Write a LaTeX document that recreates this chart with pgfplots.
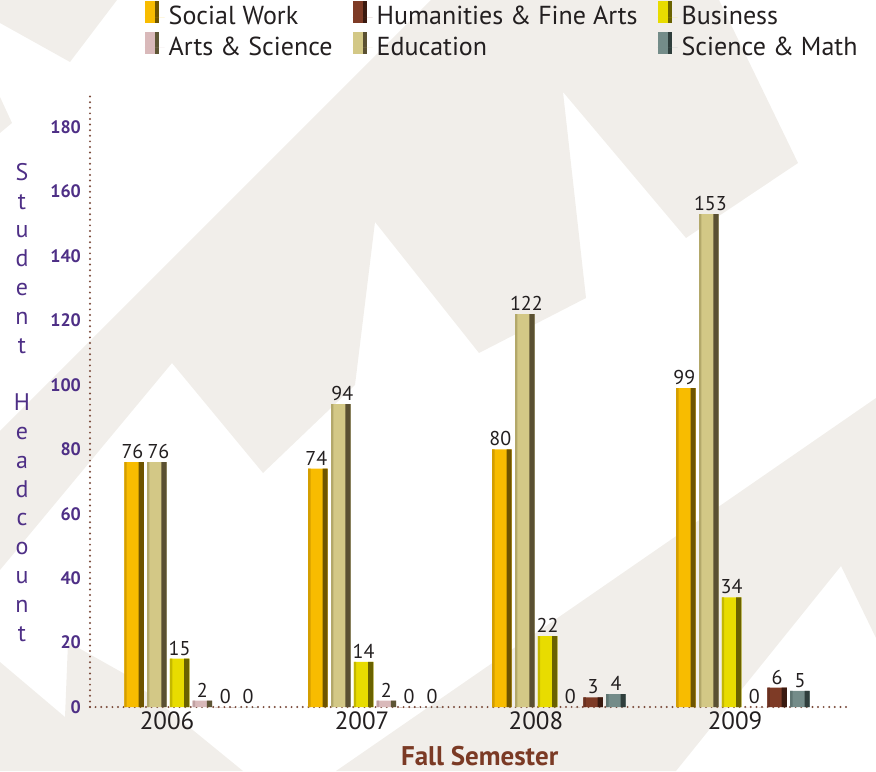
\documentclass[border=0pt]{standalone}
\usepackage{pgfplots}
\pgfplotsset{compat=1.18}
\usepackage{pgfplotstable}
\usepackage{fontspec}
\setmainfont{PT Sans}

\definecolor{bg}{HTML}{F1EEEA}
\definecolor{axbrown}{HTML}{7A4A3A}
\definecolor{ypurple}{HTML}{4E2F86}
\definecolor{xlab}{HTML}{7B3A25}
\definecolor{txt}{HTML}{231F20}
\definecolor{swM}{HTML}{F8BC00}\definecolor{swL}{HTML}{D49E00}\definecolor{swD}{HTML}{6E5400}
\definecolor{edM}{HTML}{D3C886}\definecolor{edL}{HTML}{B3A86A}\definecolor{edD}{HTML}{5A5032}
\definecolor{buM}{HTML}{E8DC00}\definecolor{buL}{HTML}{C4B800}\definecolor{buD}{HTML}{6A6200}
\definecolor{asM}{HTML}{D9B9BA}\definecolor{asL}{HTML}{BFA0A1}\definecolor{asD}{HTML}{5E5535}
\definecolor{huM}{HTML}{7E3B26}\definecolor{huL}{HTML}{6A3020}\definecolor{huD}{HTML}{3A1A10}
\definecolor{smM}{HTML}{748C89}\definecolor{smL}{HTML}{5F7572}\definecolor{smD}{HTML}{2F3E3C}

\pgfplotstableread{
x sw hum bus as edu sm
0 76 0 15 2 76 0
1 74 0 14 2 94 0
2 80 3 22 0 122 4
3 99 6 34 0 153 5
}\datatable

\newcommand{\legicon}[2]{\fill[#1] (0pt,-3pt) rectangle (7pt,8pt); \fill[#2] (5.1pt,-3pt) rectangle (7pt,8pt); \path (0pt,0pt) -- (10pt,0pt);}

\begin{document}
\begin{tikzpicture}
% background decoration (pixel coordinates of the reference)
\begin{scope}[shift={(-45pt,353.5pt)}, x=0.5pt, y=-0.5pt]
\fill[bg] (0,0) -- (117,0) -- (70,62) -- (0,23) -- cycle;
\fill[bg] (0,97) -- (12,123) -- (0,133) -- cycle;
\fill[bg] (431,0) -- (719,0) -- (798,163) -- (686,238) -- (563,92) -- (586,298) -- (479,353) -- (375,222) -- (355,385) -- (263,473) -- (172,363) -- (0,570) -- (0,431) -- cycle;
\fill[bg] (336,771) -- (876,398) -- (876,638) -- (841,566) -- (676,771) -- cycle;
\fill[bg] (0,662) -- (65,717) -- (68,642) -- (123,673) -- (243,771) -- (0,771) -- cycle;
\end{scope}

\begin{axis}[
  at={(0pt,0pt)}, anchor=south west,
  scale only axis, width=379pt, height=306pt,
  xmin=-0.549, xmax=3.571, ymin=0, ymax=190,
  axis x line=bottom, axis y line=left,
  axis line style={-, draw=axbrown, line width=1.1pt, line cap=round, dash pattern=on 0pt off 2.8pt},
  ytick={0,20,...,180},
  xtick={-0.13,0.93,1.875,2.957},
  xticklabels={2006,2007,2008,2009},
  major tick length=0pt,
  /pgf/number format/assume math mode=true,
  yticklabel style={font=\fontsize{9}{10}\selectfont\bfseries, text=ypurple, xshift=-1pt},
  xticklabel style={font=\fontsize{12.5}{14}\selectfont, text=txt, yshift=1pt},
  xlabel={Fall Semester},
  every axis x label/.style={at={(axis description cs:0.514,0)}, yshift=-24.5pt, anchor=center,
    font=\fontsize{13.5}{15}\selectfont\bfseries, text=xlab},
  ylabel={S\\t\\u\\d\\e\\n\\t\\[14.4pt]H\\e\\a\\d\\c\\o\\u\\n\\t},
  every axis y label/.style={at={(axis description cs:-0.0897,0.498)}, anchor=center, align=center,
    font=\fontsize{12}{14.4}\selectfont, text=ypurple},
  ybar,
  every node near coord/.append style={font=\fontsize{10}{12}\selectfont, text=txt, inner sep=1.5pt},
  legend columns=3,
  legend cell align=left,
  legend style={draw=none, fill=none, at={(axis description cs:0.545,1)}, anchor=south, yshift=14pt,
    font=\fontsize{13}{15}\selectfont, text=txt,
    /tikz/every even column/.append style={column sep=8pt}, row sep=0pt},
  clip=false,
]
% Social Work
\addplot[ybar, bar width=9.75pt, bar shift=-28.5pt, fill=swM, draw=none, nodes near coords,
  every node near coord/.append style={xshift=-0.8pt},
  legend image code/.code={\legicon{swM}{swD}}]
  table[x=x, y=sw]{\datatable};
\addlegendentry{Social Work}
% Humanities
\addplot[ybar, bar width=9.75pt, bar shift=17.1pt, fill=huM, draw=none, nodes near coords,
  legend image code/.code={\legicon{huM}{huD}}]
  table[x=x, y=hum]{\datatable};
\addlegendentry{Humanities \& Fine Arts}
% Business
\addplot[ybar, bar width=9.75pt, bar shift=-5.7pt, fill=buM, draw=none, nodes near coords,
  legend image code/.code={\legicon{buM}{buD}}]
  table[x=x, y=bus]{\datatable};
\addlegendentry{Business}
% Arts & Science
\addplot[ybar, bar width=9.75pt, bar shift=5.7pt, fill=asM, draw=none, nodes near coords,
  legend image code/.code={\legicon{asM}{asD}}]
  table[x=x, y=as]{\datatable};
\addlegendentry{Arts \& Science}
% Education
\addplot[ybar, bar width=9.75pt, bar shift=-17.1pt, fill=edM, draw=none, nodes near coords,
  every node near coord/.append style={xshift=0.8pt},
  legend image code/.code={\legicon{edM}{edD}}]
  table[x=x, y=edu]{\datatable};
\addlegendentry{Education}
% Science & Math
\addplot[ybar, bar width=9.75pt, bar shift=28.5pt, fill=smM, draw=none, nodes near coords,
  legend image code/.code={\legicon{smM}{smD}}]
  table[x=x, y=sm]{\datatable};
\addlegendentry{Science \& Math}

% shading strips (dark right side, darker left edge)
\addplot[ybar, forget plot, bar width=2.6pt, bar shift=-24.925pt, fill=swD, draw=none] table[x=x, y=sw]{\datatable};
\addplot[ybar, forget plot, bar width=1.2pt, bar shift=-32.775pt, fill=swL, draw=none] table[x=x, y=sw]{\datatable};
\addplot[ybar, forget plot, bar width=2.6pt, bar shift=-13.525pt, fill=edD, draw=none] table[x=x, y=edu]{\datatable};
\addplot[ybar, forget plot, bar width=1.2pt, bar shift=-21.375pt, fill=edL, draw=none] table[x=x, y=edu]{\datatable};
\addplot[ybar, forget plot, bar width=2.6pt, bar shift=-2.125pt, fill=buD, draw=none] table[x=x, y=bus]{\datatable};
\addplot[ybar, forget plot, bar width=1.2pt, bar shift=-9.975pt, fill=buL, draw=none] table[x=x, y=bus]{\datatable};
\addplot[ybar, forget plot, bar width=2.6pt, bar shift=9.275pt, fill=asD, draw=none] table[x=x, y=as]{\datatable};
\addplot[ybar, forget plot, bar width=1.2pt, bar shift=1.425pt, fill=asL, draw=none] table[x=x, y=as]{\datatable};
\addplot[ybar, forget plot, bar width=2.6pt, bar shift=20.675pt, fill=huD, draw=none] table[x=x, y=hum]{\datatable};
\addplot[ybar, forget plot, bar width=1.2pt, bar shift=12.825pt, fill=huL, draw=none] table[x=x, y=hum]{\datatable};
\addplot[ybar, forget plot, bar width=2.6pt, bar shift=32.075pt, fill=smD, draw=none] table[x=x, y=sm]{\datatable};
\addplot[ybar, forget plot, bar width=1.2pt, bar shift=24.225pt, fill=smL, draw=none] table[x=x, y=sm]{\datatable};
\end{axis}
\pgfresetboundingbox
\useasboundingbox (-45pt,-32pt) rectangle (393pt,353.5pt);
\end{tikzpicture}
\end{document}
